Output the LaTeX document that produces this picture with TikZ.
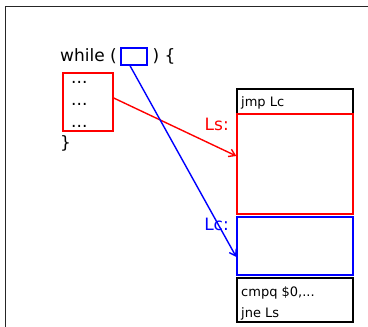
\documentclass[tikz,border=0pt]{standalone}
\usepackage{fontspec}
\setmainfont{DejaVu Sans}
\usetikzlibrary{arrows.meta}
\begin{document}
\begin{tikzpicture}[x=1pt,y=-1pt,
  box/.style={draw, rectangle, inner sep=0pt, line width=1.4pt},
  code/.style={inner sep=0pt, font=\fontsize{17}{20}\selectfont},
  asm/.style={inner sep=0pt, font=\fontsize{13}{15}\selectfont},
  link/.style={line width=1.4pt, -{Straight Barb[length=6pt,width=8pt]}}]
\useasboundingbox (0,0) rectangle (368,327);
% frame
\draw[line width=1.5pt, black!85] (5.3,330) -- (5.3,6.5) -- (370,6.5);

% C source
\node[code, anchor=base west] (kw) at (60,61) {while (};
\node[box, blue, minimum width=26pt, minimum height=17pt] (cond) at (134,56.5) {};
\node[code, anchor=base west] (open) at (152.5,61) {) \{};
\node[box, red, minimum width=50pt, minimum height=58pt] (body) at (88,102) {};
\node[code, anchor=base west] (l1) at (71,83) {...};
\node[code, anchor=base west] (l2) at (71,105) {...};
\node[code, anchor=base west] (l3) at (71,127) {...};
\node[code, anchor=base west] (close) at (60,148) {\}};

% generated assembly
\node[box, minimum width=116pt, minimum height=25pt] (jmp) at (295,101.5) {};
\node[box, red, minimum width=116pt, minimum height=100pt] (ls) at (295,164) {};
\node[box, blue, minimum width=116pt, minimum height=58pt] (lc) at (295,246) {};
\node[box, minimum width=116pt, minimum height=44pt] (cmp) at (295,300) {};
\node[asm, anchor=base west] (t1) at (241,106) {jmp Lc};
\node[asm, anchor=base west] (t2) at (241,296) {cmpq \$0,...};
\node[asm, anchor=base west] (t3) at (241,317) {jne Ls};
\node[code, red, anchor=base east] (lsl) at (229,130) {Ls:};
\node[code, blue, anchor=base east] (lcl) at (229,230) {Lc:};

% correspondences
\draw[link, red] ([yshift=4pt]body.east) -- ([yshift=8pt]ls.west);
\draw[link, blue] ([xshift=-4pt]cond.south) -- ([yshift=-11pt]lc.west);
\end{tikzpicture}
\end{document}
